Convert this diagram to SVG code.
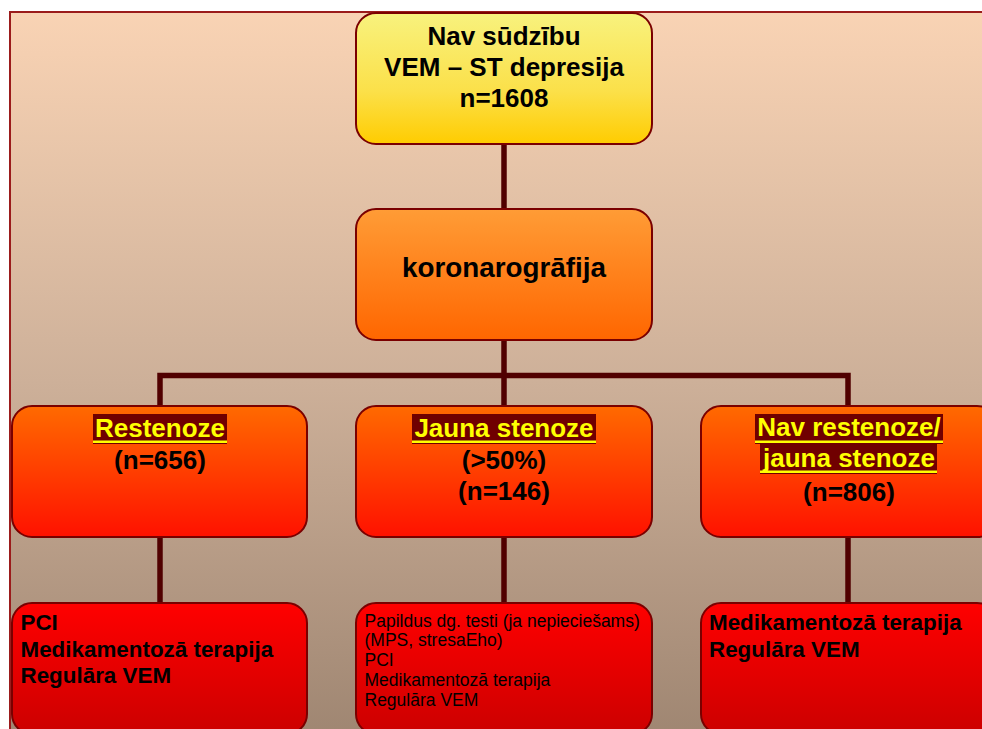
<svg xmlns="http://www.w3.org/2000/svg" width="982" height="729" viewBox="0 0 982 729">
  <defs>
    <linearGradient id="bg" x1="0" y1="0" x2="0" y2="1">
      <stop offset="0" stop-color="#F9D3B4"/>
      <stop offset="0.5" stop-color="#CDB099"/>
      <stop offset="1" stop-color="#9D8470"/>
    </linearGradient>
    <linearGradient id="gTop" x1="0" y1="0" x2="0" y2="1">
      <stop offset="0" stop-color="#F8F27E"/>
      <stop offset="0.6" stop-color="#FBE049"/>
      <stop offset="1" stop-color="#FFCC00"/>
    </linearGradient>
    <linearGradient id="gMid" x1="0" y1="0" x2="0" y2="1">
      <stop offset="0" stop-color="#FF9C36"/>
      <stop offset="1" stop-color="#FF6600"/>
    </linearGradient>
    <linearGradient id="gL2" x1="0" y1="0" x2="0" y2="1">
      <stop offset="0" stop-color="#FF6A00"/>
      <stop offset="1" stop-color="#FF1100"/>
    </linearGradient>
    <linearGradient id="gL3" x1="0" y1="0" x2="0" y2="1">
      <stop offset="0" stop-color="#FF0000"/>
      <stop offset="1" stop-color="#CC0000"/>
    </linearGradient>
  </defs>
  <style>
    .box { stroke: #7A0000; stroke-width: 2; }
    .conn { stroke: #500000; stroke-width: 5.5; fill: none; }
    .t { font-family: "Liberation Sans", Arial, sans-serif; font-weight: bold; fill: #000; }
    .c { text-anchor: middle; }
    .hl { fill: #700000; }
    .ul { fill: #FFFF00; }
    .ht { fill: #FFFF00; }
    .s { font-family: "Liberation Sans", Arial, sans-serif; font-size: 17.5px; fill: #000; }
  </style>

  <!-- page -->
  <rect x="0" y="0" width="982" height="729" fill="#FFFFFF"/>
  <rect x="10" y="12" width="990" height="740" fill="url(#bg)" stroke="#9B1B1B" stroke-width="2"/>

  <!-- connectors -->
  <g id="connectors">
    <line class="conn" x1="504" y1="144" x2="504" y2="209"/>
    <line class="conn" x1="504" y1="340" x2="504" y2="406"/>
    <polyline class="conn" points="160,406 160,375.5 848,375.5 848,406"/>
    <line class="conn" x1="160" y1="537" x2="160" y2="603"/>
    <line class="conn" x1="504" y1="537" x2="504" y2="603"/>
    <line class="conn" x1="848" y1="537" x2="848" y2="603"/>
  </g>

  <g id="start">
    <rect class="box" x="356" y="13" width="296" height="131" rx="20" fill="url(#gTop)"/>
    <text class="t c" font-size="26" x="504" y="45">Nav sūdzību</text>
    <text class="t c" font-size="26" x="504" y="76">VEM – ST depresija</text>
    <text class="t c" font-size="26" x="504" y="107">n=1608</text>
  </g>

  <g id="koronarografija">
    <rect class="box" x="356" y="209" width="296" height="131" rx="20" fill="url(#gMid)"/>
    <text class="t c" font-size="27.8" x="504" y="277">koronarogrāfija</text>
  </g>

  <g id="restenoze">
    <rect class="box" x="12" y="406" width="295" height="131" rx="20" fill="url(#gL2)"/>
    <rect class="hl" x="93" y="414" width="134" height="30"/>
    <rect class="ul" x="93" y="440.5" width="134" height="2.5"/>
    <text class="t c ht" font-size="26" x="160" y="437">Restenoze</text>
    <text class="t c" font-size="26" x="160" y="469">(n=656)</text>
  </g>

  <g id="jauna-stenoze">
    <rect class="box" x="356" y="406" width="296" height="131" rx="20" fill="url(#gL2)"/>
    <rect class="hl" x="412" y="414" width="184" height="30"/>
    <rect class="ul" x="412" y="440.5" width="184" height="2.5"/>
    <text class="t c ht" font-size="26" x="504" y="437">Jauna stenoze</text>
    <text class="t c" font-size="26" x="504" y="469">(&gt;50%)</text>
    <text class="t c" font-size="26" x="504" y="500">(n=146)</text>
  </g>

  <g id="nav-restenoze">
    <rect class="box" x="701" y="406" width="296" height="131" rx="20" fill="url(#gL2)"/>
    <rect class="hl" x="755" y="414" width="188" height="30"/>
    <rect class="ul" x="755" y="440.5" width="188" height="2.5"/>
    <rect class="hl" x="760" y="444" width="177" height="30"/>
    <rect class="ul" x="760" y="470.5" width="177" height="2.5"/>
    <text class="t c ht" font-size="26" x="849" y="436">Nav restenoze/</text>
    <text class="t c ht" font-size="26" x="849" y="467">jauna stenoze</text>
    <text class="t c" font-size="26" x="849" y="501">(n=806)</text>
  </g>

  <g id="terapija-restenoze">
    <rect class="box" x="12" y="603" width="295" height="131" rx="20" fill="url(#gL3)"/>
    <text class="t" font-size="22.4" x="20.5" y="630">PCI</text>
    <text class="t" font-size="22.4" x="20.5" y="656.5">Medikamentozā terapija</text>
    <text class="t" font-size="22.4" x="20.5" y="683">Regulāra VEM</text>
  </g>

  <g id="terapija-jauna-stenoze">
    <rect class="box" x="356" y="603" width="296" height="131" rx="20" fill="url(#gL3)"/>
    <text class="s" x="364.5" y="626.5">Papildus dg. testi (ja nepieciešams)</text>
    <text class="s" x="364.5" y="646">(MPS, stresaEho)</text>
    <text class="s" x="364.5" y="666">PCI</text>
    <text class="s" x="364.5" y="686">Medikamentozā terapija</text>
    <text class="s" x="364.5" y="705.5">Regulāra VEM</text>
  </g>

  <g id="terapija-nav-restenoze">
    <rect class="box" x="701" y="603" width="296" height="131" rx="20" fill="url(#gL3)"/>
    <text class="t" font-size="22.4" x="709" y="630">Medikamentozā terapija</text>
    <text class="t" font-size="22.4" x="709" y="657">Regulāra VEM</text>
  </g>
</svg>
